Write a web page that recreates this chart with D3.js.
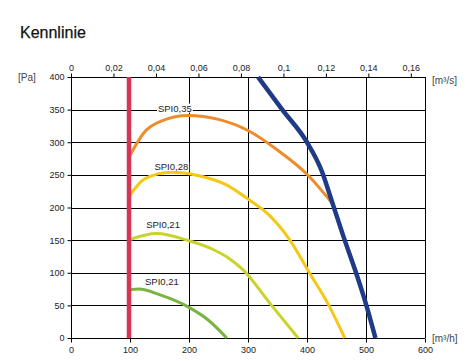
<!DOCTYPE html>
<html><head><meta charset="utf-8">
<script src="https://cdn.jsdelivr.net/npm/d3@7"></script>
<style>body{margin:0;background:#fff}svg{display:block;font-family:"Liberation Sans",Arial,sans-serif}</style>
</head><body><svg id="c" width="475" height="361"></svg>
<script>
const title = "Kennlinie";
const xTicks = [0,100,200,300,400,500,600];
const yTicks = [0,50,100,150,200,250,300,350,400];
const topTicks = [0,0.02,0.04,0.06,0.08,0.1,0.12,0.14,0.16];
const limitFlow = 100;
const blueCurve = [[317,400],[358,350],[400,300],[425,256],[442,210],[462,155],[482,103],[500,52],[516,0]];
const orangeCurve = [[100,280],[125,316],[155,333],[198,341],[250,335],[300,318],[350,288],[400,251],[445,204]];
const yellowCurve = [[100,219],[125,244],[170,254],[215,249],[265,234],[300,213],[335,189],[371,150],[404,100],[437,50],[464,0]];
const limeCurve = [[100,151],[145,160],[200,149],[240,136],[268,122],[290,106],[340,50],[385,0]];
const greenCurve = [[100,74],[115,75],[151,66],[200,47],[232,28],[264,0]];
const labels = [
  {text:"SPI0,35", x:176, y:352},
  {text:"SPI0,28", x:170, y:263},
  {text:"SPI0,21", x:156, y:173},
  {text:"SPI0,21", x:154, y:86}
];

const svg = d3.select("#c");
const x = d3.scaleLinear().domain([0,600]).range([71,425]);
const y = d3.scaleLinear().domain([0,400]).range([338,77]);
const xs = d3.scaleLinear().domain([0,600/3600]).range([71,425]);

svg.append("text").attr("x",20).attr("y",38).attr("font-size",16).attr("fill","#111").attr("stroke","#111").attr("stroke-width",0.25).text(title);

// grid
const g = svg.append("g").attr("stroke","#000").attr("stroke-width",1).attr("shape-rendering","crispEdges");
yTicks.forEach(v=>g.append("line").attr("x1",x(0)).attr("x2",x(600)).attr("y1",Math.round(y(v))+0.5).attr("y2",Math.round(y(v))+0.5));
xTicks.forEach(v=>g.append("line").attr("x1",Math.round(x(v))+0.5).attr("x2",Math.round(x(v))+0.5).attr("y1",y(0)).attr("y2",y(400)));

// axes
const fmt = d=> d3.format("")(d).replace(".",",");
const axB = svg.append("g").attr("transform",`translate(0,${Math.round(y(0))+0.5})`)
  .call(d3.axisBottom(x).tickValues(xTicks).tickSize(4).tickSizeOuter(0).tickPadding(4));
const axL = svg.append("g").attr("transform",`translate(${Math.round(x(0))+0.5},0)`)
  .call(d3.axisLeft(y).tickValues(yTicks).tickSize(4).tickSizeOuter(0).tickPadding(3));
const axT = svg.append("g").attr("transform",`translate(0,${Math.round(y(400))+0.5})`)
  .call(d3.axisTop(xs).tickValues(topTicks).tickFormat(fmt).tickSize(4).tickSizeOuter(0).tickPadding(3));
[axB,axL,axT].forEach(a=>{a.select(".domain").remove();a.selectAll("text").attr("font-size",9).attr("fill","#222").attr("font-family","Liberation Sans,Arial,sans-serif");a.selectAll("line").attr("stroke","#000");});

svg.append("text").attr("x",18).attr("y",81).attr("font-size",10).attr("fill","#444").text("[Pa]");
svg.append("text").attr("x",432).attr("y",84).attr("font-size",10).attr("fill","#444").text("[m³/s]");
svg.append("text").attr("x",432).attr("y",342).attr("font-size",10).attr("fill","#444").text("[m³/h]");

const line = d3.line().x(d=>x(d[0])).y(d=>y(d[1])).curve(d3.curveMonotoneX);
const curves = [
  {d:greenCurve,c:"#79b441",w:3},
  {d:limeCurve,c:"#c9d42a",w:3},
  {d:yellowCurve,c:"#f5c814",w:3},
  {d:orangeCurve,c:"#ee8b2b",w:3},
  {d:blueCurve,c:"#1f3b88",w:4.5}
];
curves.forEach(cv=>svg.append("path").attr("d",line(cv.d)).attr("fill","none").attr("stroke",cv.c).attr("stroke-width",cv.w).attr("stroke-linecap","butt"));

svg.append("line").attr("x1",x(limitFlow)-1).attr("x2",x(limitFlow)-1).attr("y1",y(0)).attr("y2",y(400)).attr("stroke","#d63452").attr("stroke-width",4.5);

labels.forEach(l=>{
  const t = svg.append("text").attr("x",x(l.x)).attr("y",y(l.y)).attr("dy","0.35em").attr("text-anchor","middle").attr("font-size",9.5).attr("fill","#222").text(l.text);
  const b = t.node().getBBox();
  svg.insert("rect", function(){return t.node();}).attr("x",b.x-1).attr("y",b.y+1).attr("width",b.width+2).attr("height",b.height-2).attr("fill","#fff");
});
</script></body></html>
